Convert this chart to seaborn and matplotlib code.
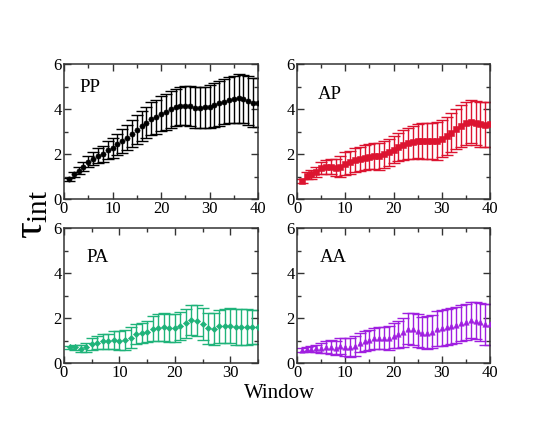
import numpy as np
import pandas as pd
import matplotlib
matplotlib.use("Agg")
import matplotlib.pyplot as plt
import seaborn as sns
from matplotlib.ticker import MultipleLocator

# ---- data ----
x40 = list(range(1, 41))
x35 = list(range(1, 36))

pp_mean = [0.87, 1.10, 1.26, 1.44, 1.66, 1.80, 1.93, 2.00, 2.18, 2.28,
           2.43, 2.58, 2.73, 2.89, 3.08, 3.26, 3.39, 3.56, 3.66, 3.79,
           3.88, 3.99, 4.07, 4.13, 4.15, 4.13, 4.06, 4.06, 4.07, 4.10,
           4.18, 4.25, 4.33, 4.40, 4.43, 4.47, 4.44, 4.36, 4.28, 4.28]
pp_err = [0.07, 0.12, 0.16, 0.20, 0.25, 0.28, 0.32, 0.35, 0.40, 0.44,
          0.48, 0.52, 0.56, 0.60, 0.64, 0.67, 0.70, 0.73, 0.76, 0.78,
          0.80, 0.82, 0.84, 0.85, 0.86, 0.88, 0.90, 0.91, 0.93, 0.95,
          0.97, 0.99, 1.01, 1.03, 1.05, 1.07, 1.08, 1.09, 1.10, 1.10]

ap_mean = [0.80, 1.04, 1.10, 1.21, 1.36, 1.42, 1.44, 1.39, 1.44, 1.57,
           1.63, 1.72, 1.78, 1.84, 1.88, 1.93, 1.90, 1.99, 2.07, 2.19,
           2.33, 2.40, 2.47, 2.52, 2.58, 2.58, 2.58, 2.58, 2.58, 2.67,
           2.80, 2.95, 3.11, 3.24, 3.36, 3.44, 3.39, 3.32, 3.29, 3.33]
ap_err = [0.08, 0.15, 0.20, 0.23, 0.27, 0.30, 0.33, 0.38, 0.45, 0.50,
          0.52, 0.53, 0.55, 0.55, 0.55, 0.58, 0.60, 0.60, 0.60, 0.60,
          0.62, 0.66, 0.70, 0.72, 0.76, 0.78, 0.80, 0.82, 0.83, 0.82,
          0.85, 0.88, 0.90, 0.92, 0.94, 0.96, 0.98, 0.99, 1.00, 1.00]

pa_mean = [0.69, 0.69, 0.63, 0.70, 0.85, 0.91, 0.96, 0.96, 1.03, 1.00,
           1.03, 1.13, 1.28, 1.34, 1.40, 1.53, 1.57, 1.59, 1.57, 1.56,
           1.65, 1.76, 1.91, 1.88, 1.74, 1.54, 1.51, 1.63, 1.66, 1.66,
           1.62, 1.60, 1.60, 1.60, 1.60]
pa_err = [0.08, 0.10, 0.15, 0.20, 0.27, 0.30, 0.33, 0.35, 0.40, 0.43,
          0.45, 0.45, 0.45, 0.45, 0.47, 0.55, 0.60, 0.62, 0.63, 0.63,
          0.63, 0.65, 0.67, 0.70, 0.72, 0.70, 0.70, 0.72, 0.75, 0.77,
          0.80, 0.80, 0.78, 0.77, 0.76]

aa_mean = [0.59, 0.62, 0.62, 0.65, 0.66, 0.71, 0.71, 0.66, 0.74, 0.71,
           0.69, 0.74, 0.91, 0.99, 1.04, 1.09, 1.10, 1.12, 1.13, 1.21,
           1.28, 1.37, 1.53, 1.51, 1.44, 1.35, 1.35, 1.40, 1.53, 1.54,
           1.59, 1.65, 1.69, 1.79, 1.84, 1.90, 1.87, 1.82, 1.72, 1.72]
aa_err = [0.08, 0.10, 0.13, 0.17, 0.22, 0.26, 0.30, 0.32, 0.35, 0.38,
          0.42, 0.44, 0.44, 0.44, 0.44, 0.46, 0.48, 0.50, 0.53, 0.55,
          0.60, 0.65, 0.70, 0.72, 0.72, 0.70, 0.72, 0.75, 0.78, 0.80,
          0.80, 0.80, 0.80, 0.80, 0.80, 0.80, 0.82, 0.86, 0.90, 0.92]

panel_names = ["PP", "AP", "PA", "AA"]
panel_x = [x40, x40, x35, x40]
panel_mean = [pp_mean, ap_mean, pa_mean, aa_mean]
panel_err = [pp_err, ap_err, pa_err, aa_err]
panel_xmax = [40, 40, 35, 40]

# ---- style ----
sns.set_theme(style="ticks")
plt.rcParams["font.family"] = ["Liberation Serif", "DejaVu Serif"]
plt.rcParams["mathtext.fontset"] = "custom"
plt.rcParams["mathtext.rm"] = "Liberation Serif"
plt.rcParams["mathtext.it"] = "Liberation Serif"
for k in ["text.color", "axes.labelcolor", "xtick.color", "ytick.color",
          "axes.edgecolor"]:
    plt.rcParams[k] = "black"

colors = ["#000000", "#dc1430", "#1fb37a", "#a01fe0"]
markers = ["o", "s", "D", "^"]
msizes = [14, 13, 10, 15]

fig = plt.figure(figsize=(5.54, 4.28), dpi=100)
W, H = 554.0, 428.0
boxes = [(64, 64, 258, 199), (297, 64, 490, 199),
         (64, 228, 258, 363), (297, 228, 490, 363)]
label_pos = [(0.082, 0.795), (0.11, 0.74), (0.117, 0.75), (0.12, 0.75)]

for i, (x0, y0, x1, y1) in enumerate(boxes):
    ax = fig.add_axes([x0 / W, 1 - y1 / H, (x1 - x0) / W, (y1 - y0) / H])
    df = pd.DataFrame({"x": panel_x[i], "y": panel_mean[i], "e": panel_err[i]})
    ax.errorbar(df["x"], df["y"], yerr=df["e"], fmt="none",
                ecolor=colors[i], elinewidth=1.0, capsize=4.5, capthick=1.0,
                zorder=2)
    sns.scatterplot(data=df, x="x", y="y", ax=ax, color=colors[i],
                    marker=markers[i], s=msizes[i], edgecolor=colors[i],
                    linewidth=0.4, zorder=3, legend=False)
    ax.set_xlim(0, panel_xmax[i])
    ax.set_ylim(0, 6)
    ax.xaxis.set_major_locator(MultipleLocator(10))
    ax.xaxis.set_minor_locator(MultipleLocator(5))
    ax.yaxis.set_major_locator(MultipleLocator(2))
    ax.yaxis.set_minor_locator(MultipleLocator(1))
    ax.tick_params(which="both", direction="in", top=True, right=True,
                   color="#333333", labelcolor="black", labelsize=12, pad=1.5)
    ax.tick_params(which="major", length=5, width=1.0)
    ax.tick_params(which="minor", length=2.8, width=1.0)
    for sp in ax.spines.values():
        sp.set_linewidth(1.1)
        sp.set_color("#333333")
    ax.set_xlabel("")
    ax.set_ylabel("")
    ax.text(label_pos[i][0], label_pos[i][1], panel_names[i],
            transform=ax.transAxes, fontsize=13.5, va="baseline", ha="left",
            color="black")

fig.text(0.505, 0.07, "Window", ha="center", va="baseline", fontsize=15,
         color="black")
fig.text(0.057, 0.498, r"$\tau_{\mathrm{int}}$", ha="center", va="center",
         rotation=90, fontsize=30, color="black")

fig.savefig("out.png", dpi=100)
